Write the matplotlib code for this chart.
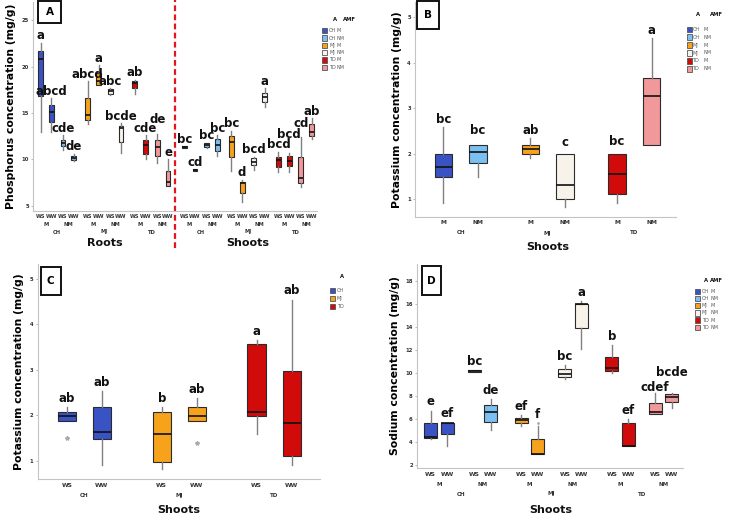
import itertools
import numpy as np
import matplotlib
matplotlib.use("Agg")
import matplotlib.pyplot as plt
from matplotlib.patches import Rectangle

plt.rcParams['font.family'] = ['DejaVu Sans']

W, H = 738, 524

# ---- data -----------------------------------------------------------
groups = ['CH', 'MJ', 'TD']
amf = ['M', 'NM']
water = ['WS', 'WW']
tissues = ['Roots', 'Shoots']

colors = {('CH', 'M'): '#3953c4', ('CH', 'NM'): '#7cc0f2',
          ('MJ', 'M'): '#f7a21b', ('MJ', 'NM'): '#f8f3ea',
          ('TD', 'M'): '#d10a0a', ('TD', 'NM'): '#f1989b'}

# A: phosphorus, roots then shoots, order group > AMF > water
a_q1 = [16.8, 14.0, 11.4, 9.95, 14.25, 18.0, 17.05, 11.9, 17.65, 10.6, 10.4, 7.2,
        11.27, 8.73, 11.38, 10.95, 10.23, 6.36, 9.41, 16.22, 9.23, 9.3, 7.51, 12.53]
a_med = [20.8, 15.15, 11.8, 10.15, 14.8, 18.4, 17.4, 13.35, 18.2, 11.55, 11.3, 7.6,
         11.38, 8.84, 11.56, 11.56, 11.92, 7.44, 9.77, 16.76, 9.95, 9.88, 7.97, 13.0]
a_q3 = [21.7, 15.9, 12.15, 10.4, 16.6, 19.35, 17.55, 13.6, 18.45, 12.05, 12.1, 8.75,
        11.45, 8.94, 11.74, 12.17, 12.53, 7.62, 10.13, 17.19, 10.3, 10.38, 10.23, 13.82]
a_lo = [13.0, 13.0, 11.0, 9.85, 13.8, 18.0, 16.95, 10.65, 17.05, 10.0, 9.6, 7.1,
        11.27, 8.73, 11.27, 10.38, 8.8, 5.47, 8.87, 15.68, 8.69, 8.69, 7.01, 12.17]
a_hi = [22.55, 16.6, 12.6, 10.6, 18.4, 20.15, 17.65, 13.9, 18.6, 12.6, 12.75, 10.0,
        11.45, 8.94, 11.81, 12.63, 13.1, 7.8, 10.3, 17.65, 10.84, 10.66, 12.38, 14.43]
a_letters = ['a', 'abcd', 'cde', 'de', 'abcd', 'a', 'abc', 'bcde', 'ab', 'cde', 'de', 'e',
             'bc', 'cd', 'bc', 'bc', 'bc', 'd', 'bcd', 'a', 'bcd', 'bcd', 'cd', 'ab']

# B: potassium in shoots, group > AMF
b_q1 = [1.48, 1.79, 1.99, 1.0, 1.11, 2.19]
b_med = [1.70, 2.04, 2.11, 1.31, 1.56, 3.27]
b_q3 = [1.99, 2.19, 2.19, 1.99, 1.99, 3.66]
b_lo = [0.91, 1.50, 1.90, 0.82, 0.91, 2.19]
b_hi = [2.58, 2.19, 2.34, 1.99, 1.99, 4.54]
b_letters = ['bc', 'bc', 'ab', 'c', 'bc', 'a']

# C: potassium in shoots, group > water
c_q1 = [1.87, 1.49, 0.99, 1.87, 1.98, 1.11]
c_med = [1.99, 1.64, 1.60, 1.99, 2.07, 1.83]
c_q3 = [2.08, 2.18, 2.08, 2.18, 3.57, 2.97]
c_lo = [1.87, 0.92, 0.82, 1.87, 1.60, 0.92]
c_hi = [2.18, 2.53, 2.18, 2.38, 3.65, 4.54]
c_fliers = [[1.50], [], [], [1.39], [], []]
c_letters = ['ab', 'ab', 'b', 'ab', 'a', 'ab']

# D: sodium in shoots, group > AMF > water
d_q1 = [4.30, 4.65, 10.09, 5.73, 5.64, 2.95, 9.66, 13.96, 10.18, 3.64, 6.46, 7.48]
d_med = [4.39, 5.60, 10.18, 6.60, 5.88, 2.95, 9.95, 15.97, 10.44, 3.64, 6.55, 7.91]
d_q3 = [5.61, 5.66, 10.24, 7.19, 6.11, 4.21, 10.33, 16.05, 11.40, 5.65, 7.42, 8.20]
d_lo = [4.24, 3.61, 10.09, 5.0, 5.38, 2.95, 9.45, 12.07, 10.0, 3.64, 6.46, 6.9]
d_hi = [6.71, 5.66, 10.24, 7.71, 6.31, 5.37, 10.67, 16.26, 12.42, 5.97, 8.26, 8.26]
d_fliers = [[], [], [], [], [], [5.61], [], [], [], [], [], []]
d_letters = ['e', 'ef', 'bc', 'de', 'ef', 'f', 'bc', 'a', 'b', 'ef', 'cdef', 'bcde']


# ---- helpers --------------------------------------------------------
def layout(levels, gaps):
    idx = list(itertools.product(*[range(n) for n in levels]))
    pos = [0.0]
    for p, q in zip(idx[:-1], idx[1:]):
        k = next(j for j in range(len(levels)) if p[j] != q[j])
        pos.append(pos[-1] + gaps[k])
    return np.array(pos)


def add_ax(l, t, r, b):
    ax = fig.add_axes([l / W, 1 - b / H, (r - l) / W, (b - t) / H])
    for s in ['top', 'right']:
        ax.spines[s].set_visible(False)
    for s in ['left', 'bottom']:
        ax.spines[s].set_color('#c4c4c4')
        ax.spines[s].set_linewidth(0.8)
    ax.tick_params(axis='y', length=1.5, width=0.5, color='#999999', pad=1.5)
    ax.set_xticks([])
    return ax


def boxes(ax, pos, q1, med, q3, lo, hi, cols, width, fliers=None):
    stats = []
    for i in range(len(pos)):
        stats.append(dict(q1=q1[i], med=med[i], q3=q3[i], whislo=lo[i], whishi=hi[i],
                          fliers=fliers[i] if fliers else []))
    bp = ax.bxp(stats, positions=pos, widths=width, patch_artist=True, showcaps=False,
                manage_ticks=False,
                boxprops=dict(edgecolor='#2b2b2b', linewidth=0.8),
                medianprops=dict(color='#111111', linewidth=1.2),
                whiskerprops=dict(color='#808080', linewidth=1.0),
                flierprops=dict(marker='*', markersize=3, markerfacecolor='#aaaaaa',
                                markeredgecolor='#aaaaaa'))
    for patch, c in zip(bp['boxes'], cols):
        patch.set_facecolor(c)
    return bp


def letters(ax, pos, hi, labs, base, fliers=None, nudge=None):
    nudge = nudge or {}
    for i, (x, y, s) in enumerate(zip(pos, hi, labs)):
        if fliers and fliers[i]:
            y = max(y, max(fliers[i]))
        off = (base + nudge.get(i, 0)) * 0.72
        ax.annotate(s, (x, y), xytext=(0, off), textcoords='offset points',
                    ha='center', va='center', fontsize=8.5, fontweight='bold', color='#111111')


def under(ax, x, s, dy, size=3.8, bold=True, color='#333333'):
    ax.annotate(s, (x, 0), xycoords=('data', 'axes fraction'), xytext=(0, -dy * 0.72),
                textcoords='offset points', ha='center', va='center', fontsize=size,
                fontweight='bold' if bold else 'normal', color=color, annotation_clip=False)


def yticks(ax, ticks):
    ax.set_yticks(ticks, [str(t) for t in ticks], fontsize=3.8, fontweight='bold', color='#333333')


def panel_tag(s, l, t, r, b):
    fig.add_artist(Rectangle((l / W, 1 - b / H), (r - l) / W, (b - t) / H,
                             transform=fig.transFigure, facecolor='white',
                             edgecolor='#111111', linewidth=1.4, zorder=5))
    fig.text((l + r) / 2 / W, 1 - (t + b) / 2 / H, s, ha='center', va='center',
             fontsize=7.5, fontweight='bold', zorder=6)


def legend(xp, ytitle, titles, rows, cols, dy, first_gap, xtxt):
    for (tx, s) in titles:
        fig.text(tx / W, 1 - ytitle / H, s, ha='center', va='center', fontsize=3.8,
                 fontweight='bold', color='#111111')
    for i, (parts, c) in enumerate(zip(rows, cols)):
        y = ytitle + first_gap + i * dy
        fig.add_artist(Rectangle((xp / W, 1 - (y + 2.7) / H), 5.2 / W, 5.4 / H,
                                 transform=fig.transFigure, facecolor=c,
                                 edgecolor='#555555', linewidth=0.6))
        for tx, s in zip(xtxt, parts):
            fig.text(tx / W, 1 - y / H, s, ha='left', va='center', fontsize=3.5, color='#555555')


def ylab(ax, s):
    ax.set_ylabel(s, fontsize=7.8, fontweight='bold', labelpad=4)


fig = plt.figure(figsize=(W / 100, H / 100), dpi=100)

pal6 = [colors[(g, m)] for g in groups for m in amf]
pal6_names = [(g, m) for g in groups for m in amf]

# ---- A ------------------------------------------------------------------
axA = add_ax(33, 2, 317, 211)
posA = layout([2, 3, 2, 2], [1.5, 1.29, 1.077, 1.0])
colsA = [colors[(g, m)] for t in tissues for g in groups for m in amf for w in water]
boxes(axA, posA, a_q1, a_med, a_q3, a_lo, a_hi, colsA, 0.45)
letters(axA, posA, a_hi, a_letters, 7, nudge={10: 7, 21: 12, 22: 7})
axA.set_xlim(posA[0] - 0.71, posA[-1] + 0.5)
axA.set_ylim(4.46, 26.94)
yticks(axA, [5, 10, 15, 20, 25])
ylab(axA, 'Phosphorus concentration (mg/g)')
for ti, t in enumerate(tissues):
    tpos = posA[ti * 12:(ti + 1) * 12]
    for gi, g in enumerate(groups):
        gpos = tpos[gi * 4:(gi + 1) * 4]
        for mi, m in enumerate(amf):
            mpos = gpos[mi * 2:(mi + 1) * 2]
            for x, w in zip(mpos, water):
                under(axA, x, w, 6)
            under(axA, mpos.mean(), m, 14)
        under(axA, gpos.mean(), g, 21)
    under(axA, tpos.mean(), t, 32, size=8, color='#111111')
xd = (posA[11] + posA[12]) / 2 - 0.15
axA.plot([xd, xd], [-0.177, 1.01], transform=axA.get_xaxis_transform(), color='#e8141c',
         lw=1.6, ls=(0, (2.6, 1.5)), clip_on=False)
panel_tag('A', 38, 1, 61, 22.7)
legend(322, 19.3, [(335, 'A'), (349, 'AMF')], pal6_names, pal6, 7.3, 11.4, [329, 336.7])

# ---- B ------------------------------------------------------------------
axB = add_ax(415, 2, 676, 217)
posB = layout([3, 2], [1.5, 1.0])
boxes(axB, posB, b_q1, b_med, b_q3, b_lo, b_hi, pal6, 0.5)
letters(axB, posB, b_hi, b_letters, 8.3, nudge={1: 6, 3: 3.5, 4: 4.5})
axB.set_xlim(posB[0] - 0.82, posB[-1] + 0.7)
axB.set_ylim(0.61, 5.34)
yticks(axB, [1, 2, 3, 4, 5])
ylab(axB, 'Potassium concentration (mg/g)')
for gi, g in enumerate(groups):
    gpos = posB[gi * 2:(gi + 1) * 2]
    for x, m in zip(gpos, amf):
        under(axB, x, m, 6, size=4.3)
    under(axB, gpos.mean(), g, 16, size=4.0)
under(axB, posB.mean(), 'Shoots', 30, size=8, color='#111111')
panel_tag('B', 417, 1, 439, 29)
legend(687, 15, [(698.3, 'A'), (716.7, 'AMF')], pal6_names, pal6, 7.9, 14.3, [692.3, 703.3])

# ---- C ------------------------------------------------------------------
axC = add_ax(37.7, 264, 320, 479.3)
posC = layout([3, 2], [1.71, 1.0])
colsC = [colors[(g, 'M')] for g in groups for w in water]
boxes(axC, posC, c_q1, c_med, c_q3, c_lo, c_hi, colsC, 0.52, fliers=c_fliers)
letters(axC, posC, c_hi, c_letters, 9)
axC.set_xlim(posC[0] - 0.83, posC[-1] + 0.81)
axC.set_ylim(0.60, 5.32)
yticks(axC, [1, 2, 3, 4, 5])
ylab(axC, 'Potassium concentration (mg/g)')
for gi, g in enumerate(groups):
    gpos = posC[gi * 2:(gi + 1) * 2]
    for x, w in zip(gpos, water):
        under(axC, x, w, 6, size=4.3)
    under(axC, gpos.mean(), g, 16, size=4.0)
under(axC, posC.mean(), 'Shoots', 31, size=8, color='#111111')
panel_tag('C', 40.7, 267, 60.7, 295.3)
legend(330, 277, [(341.7, 'A')], [(g,) for g in groups], [colors[(g, 'M')] for g in groups],
       8, 13.3, [336.7])

# ---- D ------------------------------------------------------------------
axD = add_ax(417, 264, 683, 468)
posD = layout([3, 2, 2], [1.85, 1.64, 1.0])
colsD = [colors[(g, m)] for g in groups for m in amf for w in water]
bpD = boxes(axD, posD, d_q1, d_med, d_q3, d_lo, d_hi, colsD, 0.78, fliers=d_fliers)
for fl in bpD['fliers']:
    fl.set_marker('.')
    fl.set_markersize(2)
letters(axD, posD, d_hi, d_letters, 9, fliers=d_fliers, nudge={10: -4, 11: 11})
axD.set_xlim(posD[0] - 0.83, posD[-1] + 0.68)
axD.set_ylim(1.71, 19.5)
yticks(axD, [2, 4, 6, 8, 10, 12, 14, 16, 18])
ylab(axD, 'Sodium concentration (mg/g)')
for gi, g in enumerate(groups):
    gpos = posD[gi * 4:(gi + 1) * 4]
    for mi, m in enumerate(amf):
        mpos = gpos[mi * 2:(mi + 1) * 2]
        for x, w in zip(mpos, water):
            under(axD, x, w, 6, size=4.3)
        under(axD, mpos.mean(), m, 16, size=4.0)
    under(axD, gpos.mean(), g, 26, size=4.0)
under(axD, posD.mean(), 'Shoots', 42, size=8, color='#111111')
panel_tag('D', 422, 266, 441, 295)
legend(695, 280.3, [(706, 'A'), (716, 'AMF')], pal6_names, pal6, 7.2, 11, [702, 710.7])

fig.savefig('out.png', dpi=100)
